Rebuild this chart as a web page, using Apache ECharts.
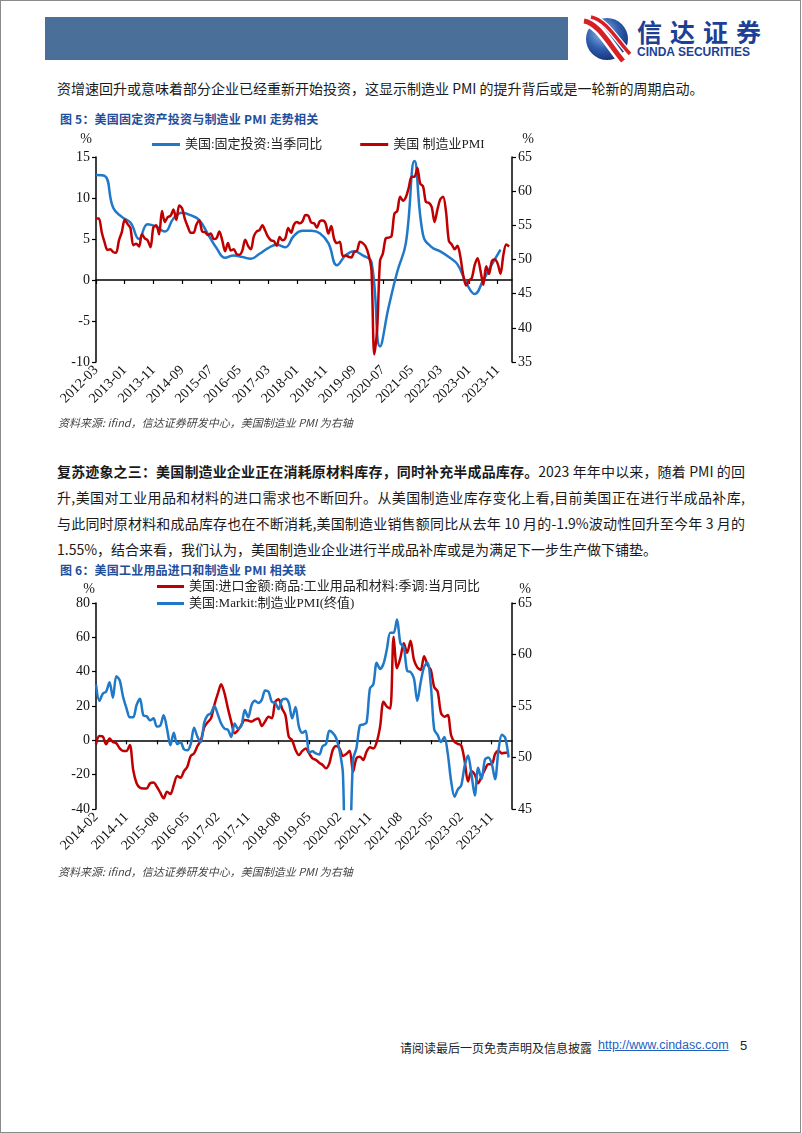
<!DOCTYPE html>
<html><head><meta charset="utf-8">
<script src="https://cdn.jsdelivr.net/npm/echarts@6/dist/echarts.min.js"></script>
<style>
html,body{margin:0;padding:0;background:#fff;}
body{width:802px;height:1133px;position:relative;overflow:hidden;font-family:"Noto Sans CJK SC",sans-serif;color:#1a1a1a;}
.frame{position:absolute;left:0;top:0;width:801px;height:1133px;box-sizing:border-box;border:1px solid #8a8a8a;}
.abs{position:absolute;white-space:nowrap;}
.line{position:absolute;left:57px;width:688px;font-size:14px;line-height:26px;height:26px;text-align:justify;text-align-last:justify;overflow:hidden;}
.plain{text-align:left;text-align-last:left;}
.ftitle{position:absolute;left:60px;font-size:12px;font-weight:bold;color:#1f4e9b;white-space:nowrap;letter-spacing:0.2px;}
.src{position:absolute;left:58px;font-size:11px;font-style:italic;color:#444;white-space:nowrap;}
.chart{position:absolute;left:0;width:560px;height:295px;}
</style></head>
<body>
<div class="frame"></div>
<div class="abs" style="left:45px;top:17px;width:523px;height:43px;background:#4a6f98;"></div>
<svg class="abs" style="left:580px;top:14px" width="52" height="50" viewBox="0 0 52 50">
<defs><radialGradient id="g" cx="40%" cy="35%" r="70%"><stop offset="0" stop-color="#9dbde6"/><stop offset="0.55" stop-color="#2f5fae"/><stop offset="1" stop-color="#142f74"/></radialGradient></defs>
<circle cx="27" cy="25" r="21" fill="url(#g)"/>
<path d="M4 7 C 18 9, 29 30, 43 47" stroke="#fff" stroke-width="10" fill="none"/>
<path d="M4 7 C 18 9, 29 30, 43 47" stroke="#d71f26" stroke-width="5" fill="none"/>
<path d="M11 3 C 26 6, 37 26, 50 40" stroke="#fff" stroke-width="6" fill="none"/>
<path d="M11 3 C 26 6, 37 26, 50 40" stroke="#d71f26" stroke-width="3.5" fill="none"/>
</svg>
<div class="abs" style="left:637px;top:17px;font-size:25px;font-weight:bold;color:#1d3f94;letter-spacing:8px;line-height:29px;">信达证券</div>
<div class="abs" style="left:637px;top:46px;font-size:12px;font-weight:bold;color:#1d3f94;font-family:'Liberation Sans',Arial,sans-serif;line-height:13px;">CINDA SECURITIES</div>

<div class="line plain" style="top:75px;">资增速回升或意味着部分企业已经重新开始投资，这显示制造业 PMI 的提升背后或是一轮新的周期启动。</div>

<div class="ftitle" style="top:110px;">图 5：美国固定资产投资与制造业 PMI 走势相关</div>
<div id="c1" class="chart" style="top:125px;"></div>
<div class="src" style="top:414px;">资料来源: ifind，信达证券研发中心，美国制造业 PMI 为右轴</div>

<div class="line" style="top:458px;"><b>复苏迹象之三：美国制造业企业正在消耗原材料库存，同时补充半成品库存。</b>2023 年年中以来，随着 PMI 的回</div>
<div class="line" style="top:484px;">升,美国对工业用品和材料的进口需求也不断回升。从美国制造业库存变化上看,目前美国正在进行半成品补库,</div>
<div class="line" style="top:510px;">与此同时原材料和成品库存也在不断消耗,美国制造业销售额同比从去年 10 月的-1.9%波动性回升至今年 3 月的</div>
<div class="line plain" style="top:536px;">1.55%，结合来看，我们认为，美国制造业企业进行半成品补库或是为满足下一步生产做下铺垫。</div>

<div class="ftitle" style="top:561px;">图 6：美国工业用品进口和制造业 PMI 相关联</div>
<div id="c2" class="chart" style="top:575px;"></div>
<div class="src" style="top:863px;">资料来源: ifind，信达证券研发中心，美国制造业 PMI 为右轴</div>

<div class="abs" style="left:400px;top:1039px;font-size:12px;color:#222;">请阅读最后一页免责声明及信息披露</div>
<div class="abs" style="left:598px;top:1038px;font-size:12.5px;color:#1f5fbf;text-decoration:underline;font-family:'Liberation Sans',Arial,sans-serif;">http://www.cindasc.com</div>
<div class="abs" style="left:740px;top:1038px;font-size:13px;color:#222;font-family:'Liberation Sans',Arial,sans-serif;">5</div>

<script>
// ---------- Figure 5 data ----------
// US fixed investment, quarterly YoY (%), 2012Q1 ... 2023Q4 (plotted at quarter-end months)
const fixedInvQ = [12.8,12.7,8.8,7.7, 7.0,5.0,6.8,6.5, 5.9,7.5,8.2,7.9, 7.3,5.6,3.9,2.7,
  3.0,2.8,2.6,3.2, 3.9,4.3,4.0,5.4, 6.0,6.0,5.7,4.5, 1.8,3.0,3.5,3.0,
  2.2,-8.1,-3.3,1.0, 4.5,14.5,5.5,4.0, 3.5,2.8,1.9,-0.3, -1.7,0.0,1.9,3.7];
// US manufacturing PMI (monthly), 2012-03 ... 2024-03
const pmiFig5 = [56.0,56.0,54.0,52.5,51.4,51.5,51.1,51.0,52.8,54.0,
  55.8,55.2,54.6,52.1,52.3,51.9,53.7,53.1,52.8,51.8,54.7,55.0,
  53.7,57.1,55.5,56.2,56.4,57.3,55.8,57.9,57.5,55.9,54.8,53.9,
  53.9,55.1,55.7,54.1,54.0,53.6,53.8,53.0,53.1,54.1,52.8,51.2,
  52.4,51.3,51.5,50.8,50.7,51.3,52.9,52.0,51.5,53.4,54.1,54.3,
  55.0,54.2,53.3,52.8,52.7,52.0,53.3,52.8,53.1,54.6,53.9,55.1,
  55.5,55.3,55.6,56.5,56.4,55.4,55.3,54.7,55.6,55.7,55.3,53.8,
  54.9,53.0,52.4,52.6,50.5,50.6,50.4,50.3,51.1,51.3,52.6,52.4,
  51.9,50.7,48.5,36.1,39.8,49.8,50.9,53.1,53.2,53.4,56.7,57.1,
  59.2,58.6,59.1,60.5,62.1,62.1,63.4,61.1,60.7,58.4,58.3,57.7,
  55.5,57.3,58.8,59.2,57.0,52.7,52.2,51.5,52.0,50.4,47.7,46.2,
  46.9,47.3,49.2,50.2,48.4,46.3,49.0,47.9,49.8,50.0,49.4,47.9,
  50.7,52.2,51.9];
// ---------- Figure 6 data ----------
// US imports: industrial supplies & materials, SA, monthly YoY (%), 2014-02 ... 2024-04
const importsYoY = [-2.2,2.5,2.2,-2.3,1.0,-1.0,-1.7,-4.7,-6.2,-6.2,-2.7,-17.3,
  -25.0,-27.6,-28.0,-28.0,-25.0,-24.6,-27.0,-30.5,-33.8,-29.9,-31.3,-26.0,
  -20.8,-21.8,-18.0,-15.4,-9.1,-7.6,-3.3,0.0,7.6,10.5,12.8,20.6,
  27.0,32.6,27.4,18.6,10.8,4.1,6.0,9.0,11.8,11.5,10.9,12.0,
  12.7,8.3,11.0,13.8,12.8,22.5,24.0,18.6,14.7,2.1,0.0,-5.6,
  -8.6,-6.2,-4.7,-7.6,-10.5,-11.4,-13.0,-14.4,-16.3,-13.4,-5.6,-3.3,
  -4.7,-9.1,-8.0,-6.0,-18.3,-10.4,-9.5,-11.4,-6.6,-4.0,-4.7,-1.0,
  8.0,22.5,19.6,18.6,60.3,42.0,48.0,56.5,51.0,58.0,47.0,42.5,
  41.0,49.0,44.0,41.0,31.0,28.5,16.0,13.8,14.7,3.0,-1.0,-2.0,
  -3.0,-12.0,-24.0,-18.0,-20.0,-25.0,-21.0,-17.0,-14.0,-14.0,-8.0,-6.0,
  -7.6,-7.2,-7.2];
// US Markit manufacturing PMI (final), monthly, 2014-02 ... 2024-04
const markitPMI = [57.1,55.5,56.2,56.4,57.3,55.8,57.9,57.5,55.9,54.8,53.9,
  53.9,55.1,55.7,54.1,54.0,53.6,53.8,53.0,53.1,54.1,52.8,51.2,
  52.4,51.3,51.5,50.8,50.7,51.3,52.9,52.0,51.5,53.4,54.1,54.3,
  55.0,54.2,53.3,52.8,52.7,52.0,53.3,52.8,53.1,54.6,53.9,55.1,
  55.5,55.3,55.6,56.5,56.4,55.4,55.3,54.7,55.6,55.7,55.3,53.8,
  54.9,53.0,52.4,52.6,50.5,50.6,50.4,50.3,51.1,51.3,52.6,52.4,
  51.9,50.7,48.5,36.1,39.8,49.8,50.9,53.1,53.2,53.4,56.7,57.1,
  59.2,58.6,59.1,60.5,62.1,62.1,63.4,61.1,60.7,58.4,58.3,57.7,
  55.5,57.3,58.8,59.2,57.0,52.7,52.2,51.5,52.0,50.4,47.7,46.2,
  46.9,47.3,49.2,50.2,48.4,46.3,49.0,47.9,49.8,50.0,49.4,47.9,
  50.7,52.2,51.9,50.0];

const names1 = ['美国:固定投资:当季同比','美国 制造业PMI'];
const names2 = ['美国:进口金额:商品:工业用品和材料:季调:当月同比','美国:Markit:制造业PMI(终值)'];
const BLUE = '#1f78c8', RED = '#c00000';
const SERIF = '"Liberation Serif","Times New Roman","Noto Sans CJK SC",serif';

function months(y, m, n){
  const out=[];
  for(let i=0;i<n;i++){ out.push(y+'-'+(m<10?'0':'')+m); m++; if(m>12){m=1;y++;} }
  return out;
}
const cats1 = months(2012,3,146);
const cats2 = months(2014,2,124);
const fixedInvPts = fixedInvQ.map((v,i)=>[i*3, v]);

function yAx(min,max,step,pos,pad,gap){
  return {type:'value',min:min,max:max,interval:step,position:pos,
    name:'%',nameLocation:'end',nameGap:gap,
    nameTextStyle:{fontSize:14,color:'#222',fontFamily:SERIF,padding:pad},
    axisLine:{show:true,lineStyle:{color:'#000',width:1.5}},
    axisTick:{show:true,length:4,inside:false,lineStyle:{color:'#000',width:1.2}},
    axisLabel:{fontSize:14,color:'#111',fontFamily:SERIF,margin:6},
    splitLine:{show:false}};
}
function xAxes(cats,step){
  return [
    {type:'category',data:cats,boundaryGap:false,position:'bottom',
     axisLine:{show:false,onZero:false},axisTick:{show:false},
     axisLabel:{interval:step-1,rotate:45,fontSize:14,color:'#111',fontFamily:SERIF,margin:6}},
    {type:'category',data:cats,boundaryGap:false,position:'bottom',
     axisLine:{show:true,onZero:true,onZeroAxisIndex:0,lineStyle:{color:'#000',width:1.5}},
     axisTick:{show:true,interval:step-1,length:4,lineStyle:{color:'#000',width:1.2}},
     axisLabel:{show:false}}
  ];
}
function lineS(name,data,color,yi,smooth){
  return {name:name,type:'line',data:data,xAxisIndex:0,yAxisIndex:yi,showSymbol:false,symbol:'none',
    smooth:smooth,lineStyle:{color:color,width:2.5},itemStyle:{color:color},clip:true};
}

const c1 = echarts.init(document.getElementById('c1'),null,{renderer:'canvas'});
c1.setOption({
  animation:false,
  textStyle:{fontFamily:SERIF},
  legend:{left:147,top:8,icon:'rect',itemWidth:28,itemHeight:3,itemGap:38,
    textStyle:{fontSize:13,color:'#222',fontFamily:SERIF},data:names1},
  grid:{left:96,top:32,width:416,height:205},
  xAxis:xAxes(cats1,10),
  yAxis:[yAx(-10,15,5,'left',[0,20,0,0],11), yAx(35,65,5,'right',[0,0,0,32],11)],
  series:[lineS(names1[0],fixedInvPts,BLUE,0,0.45), lineS(names1[1],pmiFig5,RED,1,0.3)]
});

const c2 = echarts.init(document.getElementById('c2'),null,{renderer:'canvas'});
c2.setOption({
  animation:false,
  textStyle:{fontFamily:SERIF},
  legend:{orient:'vertical',left:152,top:0,icon:'rect',itemWidth:27,itemHeight:3,itemGap:4,
    textStyle:{fontSize:13,color:'#222',fontFamily:SERIF},data:names2},
  grid:{left:96,top:28,width:416,height:206},
  xAxis:xAxes(cats2,9),
  yAxis:[yAx(-40,80,20,'left',[0,14,0,0],7), yAx(45,65,5,'right',[0,0,0,26],7)],
  series:[lineS(names2[0],importsYoY,RED,0,0.3), lineS(names2[1],markitPMI,BLUE,1,0.3)]
});
</script>
</body></html>
